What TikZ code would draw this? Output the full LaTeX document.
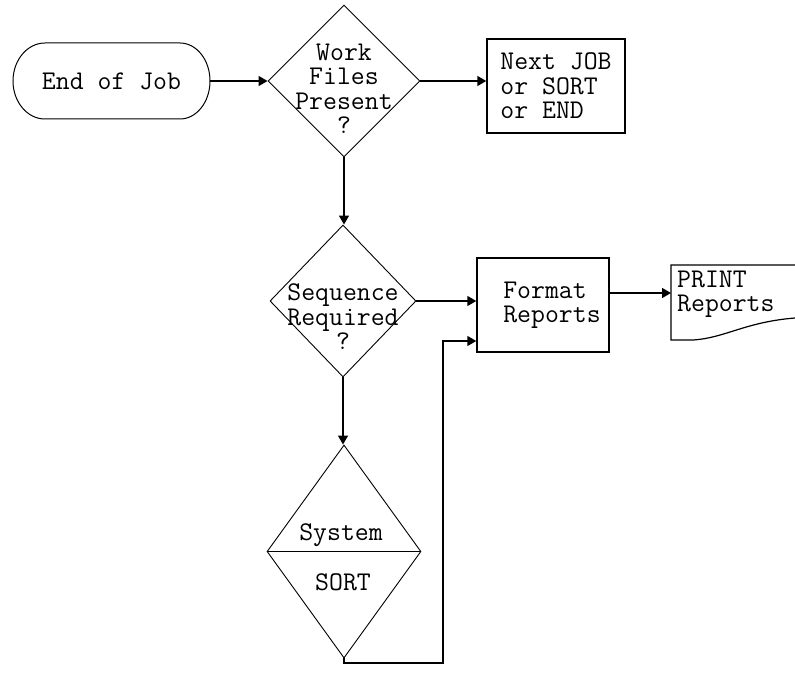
\documentclass[tikz,border=0pt]{standalone}
\usepackage{fontspec}
\usetikzlibrary{shapes.geometric,arrows.meta}
\begin{document}
\begin{tikzpicture}[x=1pt,y=-1pt,
  txt/.style={font={\ttfamily\fontsize{27}{24.5}\selectfont}, inner sep=0pt, align=center},
  dia/.style={draw, diamond, inner sep=0pt, line width=0.9pt},
  outline/.style={draw, line width=1pt},
  box/.style={draw, rectangle, line width=1.4pt, inner sep=0pt, font={\ttfamily\fontsize{27}{24.5}\selectfont}},
  conn/.style={line width=1.4pt, -{Triangle[length=9pt,width=10pt]}}]
\useasboundingbox (0,0) rectangle (795,674);

% End of Job terminator
\node[txt, minimum width=197, minimum height=76] (eoj) at (111.5,81) {End of Job};
\draw[outline] (45,43) -- (180,43) arc[start angle=-90,end angle=90,x radius=30,y radius=38]
  -- (45,119) arc[start angle=90,end angle=270,x radius=32,y radius=38] -- cycle;

% Decision 1
\node[dia, minimum width=152, minimum height=152] (d1) at (344,81) {};
\node[txt] (d1t) at (344,89) {Work\\Files\\Present\\?};

% Next JOB box
\node[box, minimum width=138, minimum height=94, align=left] (nj) at (556,86) {Next JOB\\or SORT\\or END};

% Decision 2
\node[dia, minimum width=146, minimum height=152] (d2) at (343,301) {};
\node[txt] (d2t) at (343,317) {Sequence\\Required\\?};

% Format Reports
\node[box, minimum width=132, minimum height=94] (fmt) at (543,305) {};
\node[txt, align=left] (fmtt) at (552,305) {Format\\Reports};

% PRINT Reports document
\draw[outline, line width=1.2pt] (795,265) -- (671,265) -- (671,340) -- (693,340)
  .. controls (725,338) and (745,322) .. (795,318);
\coordinate (prtin) at (671,293);
\node[txt, anchor=west, align=left] (prt) at (677,294) {PRINT\\Reports};

% System SORT
\node[dia, minimum width=154, minimum height=213] (d3) at (344,551.5) {};
\draw[line width=0.9pt] (d3.west) -- (d3.east);
\node[txt] (d3a) at (341,535) {System};
\node[txt] (d3b) at (343,582) {SORT};

% connectors
\coordinate (c1) at (443,663);
\draw[conn] (eoj.east) -- (d1.west);
\draw[conn] (d1.east) -- (d1.east -| nj.west);
\draw[conn] (d1.south) -- (d1.south |- d2.north);
\draw[conn] (d2.east) -- (d2.east -| fmt.west);
\draw[conn] (d2.south) -- (d2.south |- d3.north);
\draw[conn] (d3.south) |- (c1) |- ([yshift=-36pt]fmt.west);
\draw[conn] ([yshift=12pt]fmt.east) -- (prtin);
\end{tikzpicture}
\end{document}
